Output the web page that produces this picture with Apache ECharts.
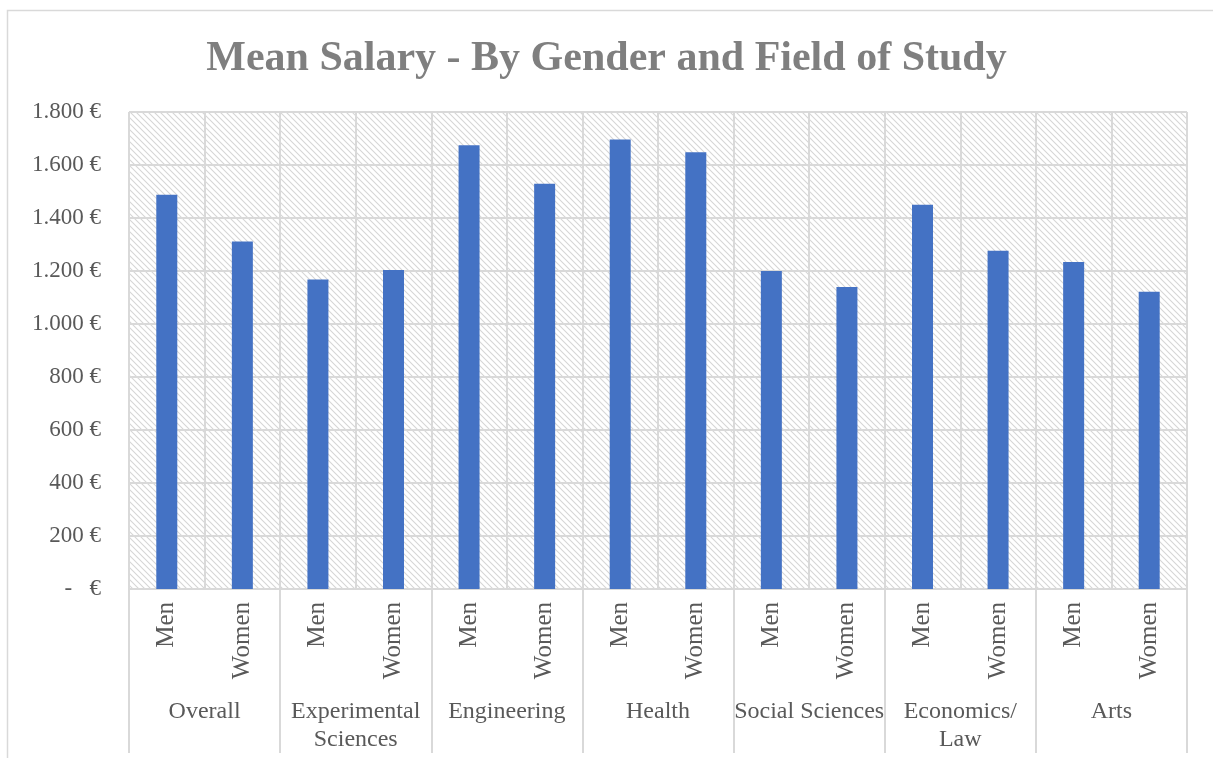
<!DOCTYPE html>
<html>
<head>
<meta charset="utf-8">
<script src="https://cdn.jsdelivr.net/npm/echarts@6/dist/echarts.min.js"></script>
<style>
html,body{margin:0;padding:0;background:#fff;}
#chart{width:1213px;height:758px;}
</style>
</head>
<body>
<div id="chart"></div>
<script>
const groups = ['Overall', 'Experimental\nSciences', 'Engineering', 'Health', 'Social Sciences', 'Economics/\nLaw', 'Arts'];
const genders = ['Men', 'Women'];
const salaries = [1488, 1311, 1168, 1204, 1675, 1529, 1696, 1648, 1200, 1140, 1450, 1276, 1234, 1122];
const yTicks = [0, 200, 400, 600, 800, 1000, 1200, 1400, 1600, 1800];

const categories = [];
groups.forEach(g => genders.forEach(s => categories.push(s)));

// hatch pattern
const tile = document.createElement('canvas');
tile.width = 6; tile.height = 6;
const ctx = tile.getContext('2d');
ctx.fillStyle = '#ffffff';
ctx.fillRect(0, 0, 6, 6);
ctx.strokeStyle = '#d6d6d6';
ctx.lineWidth = 1.1;
ctx.beginPath();
ctx.moveTo(-1, -1); ctx.lineTo(7, 7);
ctx.moveTo(-1, 5); ctx.lineTo(1, 7);
ctx.moveTo(5, -1); ctx.lineTo(7, 1);
ctx.stroke();

const font = 'Liberation Serif';
const chart = echarts.init(document.getElementById('chart'));
chart.setOption({
  backgroundColor: '#ffffff',
  animation: false,
  title: {
    text: 'Mean Salary - By Gender and Field of Study',
    left: 'center',
    top: 33,
    textStyle: { fontFamily: font, fontWeight: 'bold', fontSize: 42, color: '#7f7f7f' }
  },
  graphic: [{
    type: 'rect',
    shape: { x: 7.5, y: 10.5, width: 1230, height: 800 },
    style: { fill: 'none', stroke: '#d9d9d9', lineWidth: 1.5 },
    silent: true
  }],
  grid: {
    left: 129, right: 26, top: 112, bottom: 169,
    show: true,
    borderWidth: 0,
    backgroundColor: { image: tile, repeat: 'repeat' }
  },
  xAxis: [{
    type: 'category',
    data: categories,
    position: 'bottom',
    axisLine: { show: true, lineStyle: { color: '#d9d9d9', width: 2 } },
    axisTick: { show: false },
    splitLine: { show: true, interval: 0, lineStyle: { color: '#d9d9d9', width: 2 } },
    axisLabel: { interval: 0, rotate: 90, margin: 13, fontFamily: font, fontSize: 25, color: '#595959' }
  }, {
    type: 'category',
    data: groups,
    position: 'bottom',
    axisLine: { show: false },
    axisTick: { show: true, interval: 0, length: 164, lineStyle: { color: '#d9d9d9', width: 2 } },
    axisLabel: { interval: 0, margin: 109, fontFamily: font, fontSize: 24, lineHeight: 28, color: '#595959' }
  }],
  yAxis: {
    type: 'value',
    min: 0, max: 1800, interval: 200,
    axisLine: { show: false },
    axisTick: { show: false },
    splitLine: { show: true, lineStyle: { color: '#d9d9d9', width: 2 } },
    axisLabel: {
      margin: 28,
      fontFamily: font, fontSize: 23, color: '#595959',
      customValues: yTicks,
      formatter: v => v === 0 ? '-   €' : v.toString().replace(/\B(?=(\d{3})+(?!\d))/g, '.') + ' €'
    }
  },
  series: [{
    type: 'bar',
    xAxisIndex: 0,
    data: salaries,
    barWidth: 21,
    itemStyle: { color: '#4472c4' }
  }]
});
</script>
</body>
</html>
